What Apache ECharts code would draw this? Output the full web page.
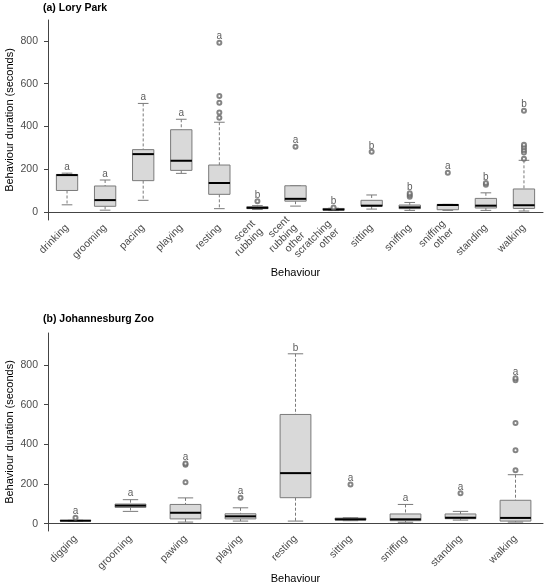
<!DOCTYPE html>
<html>
<head>
<meta charset="utf-8">
<script src="https://cdn.jsdelivr.net/npm/echarts@6/dist/echarts.min.js"></script>
<style>
html,body{margin:0;padding:0;background:#fff}
#chart{width:550px;height:584px}
</style>
</head>
<body>
<div id="chart"></div>
<script>
// (a) Lory Park
var lpCats = ['drinking','grooming','pacing','playing','resting','scent\nrubbing','scent\nrubbing\nother','scratching\nother','sitting','sniffing','sniffing\nother','standing','walking'];
var lpMin = [34, 9, 55, 181, 16, 12, 28, 7, 14, 8, 8, 8, 5];
var lpQ1  = [101, 27, 147, 195, 83, 16, 51, 9, 28, 16, 11, 19, 17];
var lpMed = [173, 56, 271, 240, 136, 20, 62, 12, 30, 22, 33, 30, 32];
var lpQ3  = [176, 122, 292, 385, 220, 25, 123, 17, 55, 33, 36, 64, 108];
var lpMax = [182, 150, 508, 434, 420, 30, 123, 18, 80, 45, 36, 90, 242];
var lpOutCat = [5, 4, 4, 4, 4, 4, 6, 7, 8, 9, 9, 9, 10, 11, 11, 12, 12, 12, 12, 12, 12];
var lpOutVal = [51, 441, 465, 511, 543, 792, 306, 22, 282, 72, 80, 88, 184, 128, 136, 249, 279, 290, 303, 315, 474];
var lpLetters = ['a','a','a','a','a','b','a','b','b','b','a','b','b'];

// (b) Johannesburg Zoo
var jzCats = ['digging','grooming','pawing','playing','resting','sitting','sniffing','standing','walking'];
var jzMin = [13, 62, 8, 13, 13, 15, 7, 18, 8];
var jzQ1  = [14, 82, 24, 24, 131, 18, 15, 25, 13];
var jzMed = [15, 91, 55, 37, 255, 22, 22, 30, 29];
var jzQ3  = [16, 99, 97, 50, 551, 28, 49, 49, 118];
var jzMax = [17, 121, 130, 80, 857, 30, 97, 62, 247];
var jzOutCat = [0, 2, 2, 2, 3, 5, 7, 8, 8, 8, 8, 8];
var jzOutVal = [30, 209, 297, 304, 131, 197, 153, 269, 370, 508, 723, 734];
var jzLetters = ['a','a','a','a','b','a','a','a','a'];

var yTicks = [0, 200, 400, 600, 800];

var font = 'Liberation Sans, Arial, sans-serif';
var textGrey = '#4d4d4d';

function boxRows(mins, q1s, meds, q3s, maxs) {
    return mins.map(function (m, i) { return [i, m, q1s[i], meds[i], q3s[i], maxs[i]]; });
}
function outRows(cats, vals) {
    return cats.map(function (c, i) { return [c, vals[i]]; });
}
function letterRows(letters, maxs, outCats, outVals) {
    return letters.map(function (l, i) {
        var top = maxs[i];
        outCats.forEach(function (c, k) { if (c === i && outVals[k] > top) top = outVals[k]; });
        return [i, top, l];
    });
}

function renderBox(params, api) {
    var i = api.value(0);
    var pMin = api.coord([i, api.value(1)]);
    var pQ1 = api.coord([i, api.value(2)]);
    var pMed = api.coord([i, api.value(3)]);
    var pQ3 = api.coord([i, api.value(4)]);
    var pMax = api.coord([i, api.value(5)]);
    var band = api.size([1, 0])[0];
    var half = band * 0.28, cap = band * 0.14;
    var x = pMed[0];
    var dash = {stroke: '#7a7a7a', lineWidth: 1, lineDash: [3, 2]};
    var solid = {stroke: '#7a7a7a', lineWidth: 1};
    return {
        type: 'group',
        children: [
            {type: 'line', shape: {x1: x, y1: pMax[1], x2: x, y2: pQ3[1]}, style: dash},
            {type: 'line', shape: {x1: x, y1: pQ1[1], x2: x, y2: pMin[1]}, style: dash},
            {type: 'line', shape: {x1: x - cap, y1: pMax[1], x2: x + cap, y2: pMax[1]}, style: solid},
            {type: 'line', shape: {x1: x - cap, y1: pMin[1], x2: x + cap, y2: pMin[1]}, style: solid},
            {type: 'rect', shape: {x: x - half, y: pQ3[1], width: half * 2, height: Math.max(pQ1[1] - pQ3[1], 0.5)},
             style: {fill: '#d9d9d9', stroke: '#7a7a7a', lineWidth: 1}},
            {type: 'line', shape: {x1: x - half, y1: pMed[1], x2: x + half, y2: pMed[1]},
             style: {stroke: '#000', lineWidth: 2}}
        ]
    };
}

function xAxisFor(cats, gridIndex, gap) {
    return {
        type: 'category', gridIndex: gridIndex, data: cats,
        name: 'Behaviour', nameLocation: 'middle', nameGap: gap, nameMoveOverlap: false,
        nameTextStyle: {fontFamily: font, fontSize: 11, color: '#000'},
        axisLine: {lineStyle: {color: '#444', width: 1}},
        axisTick: {alignWithLabel: true, length: 4, lineStyle: {color: '#444'}},
        axisLabel: {interval: 0, rotate: 45, fontFamily: font, fontSize: 10.5, color: textGrey, lineHeight: 11, margin: 6}
    };
}
function yAxisFor(gridIndex, min, max) {
    return {
        type: 'value', gridIndex: gridIndex, min: min, max: max,
        name: 'Behaviour duration (seconds)', nameLocation: 'middle', nameGap: 33, nameMoveOverlap: false,
        nameTextStyle: {fontFamily: font, fontSize: 11, color: '#000'},
        axisLine: {show: true, lineStyle: {color: '#444', width: 1}},
        axisTick: {show: true, length: 4, customValues: yTicks, lineStyle: {color: '#444'}},
        axisLabel: {customValues: yTicks, fontFamily: font, fontSize: 10.5, color: textGrey, margin: 10},
        splitLine: {show: false}
    };
}

function seriesFor(idx, mins, q1s, meds, q3s, maxs, outCats, outVals, letters) {
    return [
        {type: 'custom', xAxisIndex: idx, yAxisIndex: idx, renderItem: renderBox,
         encode: {x: 0, y: [1, 2, 3, 4, 5]}, data: boxRows(mins, q1s, meds, q3s, maxs), z: 2},
        {type: 'scatter', xAxisIndex: idx, yAxisIndex: idx, symbol: 'emptyCircle', symbolSize: 4,
         itemStyle: {color: '#666', borderWidth: 0.8}, data: outRows(outCats, outVals), z: 3},
        {type: 'scatter', xAxisIndex: idx, yAxisIndex: idx, symbolSize: 0, silent: true,
         data: letterRows(letters, maxs, outCats, outVals),
         label: {show: true, position: 'top', distance: 1, fontFamily: font, fontSize: 10, color: '#333',
                 formatter: function (p) { return p.value[2]; }}, z: 4}
    ];
}

var chart = echarts.init(document.getElementById('chart'));
chart.setOption({
    animation: false,
    backgroundColor: '#fff',
    title: [
        {text: '(a) Lory Park', left: 43, top: 3, padding: 0, textStyle: {fontFamily: font, fontSize: 10.5, fontWeight: 'bold', color: '#000'}},
        {text: '(b) Johannesburg Zoo', left: 43, top: 314, padding: 0, textStyle: {fontFamily: font, fontSize: 10.5, fontWeight: 'bold', color: '#000'}}
    ],
    grid: [
        {left: 48, right: 7, top: 20, height: 200, outerBoundsMode: 'none', containLabel: false},
        {left: 48, right: 7, top: 333, height: 198, outerBoundsMode: 'none', containLabel: false}
    ],
    xAxis: [xAxisFor(lpCats, 0, 47), xAxisFor(jzCats, 1, 42)],
    yAxis: [yAxisFor(0, -37, 898), yAxisFor(1, -37, 962)],
    series: seriesFor(0, lpMin, lpQ1, lpMed, lpQ3, lpMax, lpOutCat, lpOutVal, lpLetters)
        .concat(seriesFor(1, jzMin, jzQ1, jzMed, jzQ3, jzMax, jzOutCat, jzOutVal, jzLetters))
});
</script>
</body>
</html>
